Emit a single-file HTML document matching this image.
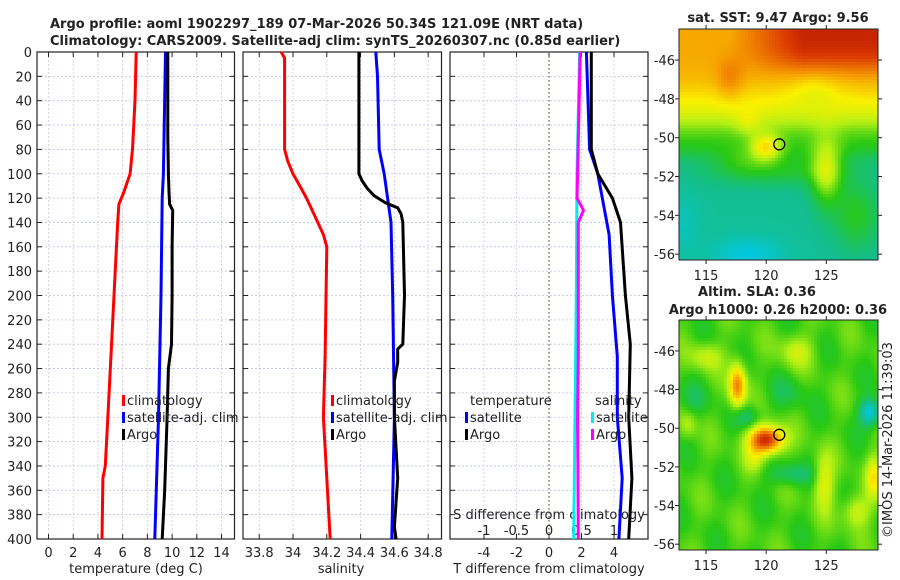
<!DOCTYPE html>
<html><head><meta charset="utf-8"><style>
body{margin:0;background:#fff;}
svg{display:block;font-family:"DejaVu Sans","Liberation Sans",sans-serif;position:absolute;left:0;top:0;}
#c1,#c2{position:absolute;image-rendering:pixelated;}
</style></head><body>
<div style="position:relative;width:900px;height:580px;">
<canvas id="c1" width="199" height="231" style="left:679px;top:29px"></canvas>
<canvas id="c2" width="199" height="230" style="left:679px;top:320px"></canvas>
<svg id="s" width="900" height="580"></svg>
</div>
<script>
// depth grid values (m)
const depthTicks=[0,20,40,60,80,100,120,140,160,180,200,220,240,260,280,300,320,340,360,380,400];
const tTicks=[0,2,4,6,8,10,12,14];
const sTicks=[33.8,34,34.2,34.4,34.6,34.8];
const dTTicks=[-4,-2,0,2,4];
const dSTicks=[-1,-0.5,0,0.5,1];
// temperature profiles
const tClimDepth=[0,40,80,100,115,125,140,200,280,340,350,400];
const tClim=[7.1,7.0,6.8,6.6,6.1,5.7,5.6,5.3,4.9,4.6,4.4,4.33];
const tSatDepth=[0,100,120,200,300,400];
const tSat=[9.47,9.3,9.2,9.1,8.9,8.6];
const tArgoDepth=[0,70,100,115,125,130,160,200,240,260,300,360,400];
const tArgo=[9.65,9.65,9.7,9.75,9.8,10.05,10.0,10.0,9.95,9.7,9.6,9.4,9.2];
// salinity profiles
const sClimDepth=[0,5,80,90,100,110,120,135,150,160,250,300,400];
const sClim=[33.93,33.95,33.95,33.97,34.0,34.04,34.08,34.13,34.18,34.2,34.19,34.18,34.22];
const sSatDepth=[0,20,80,100,140,200,300,400];
const sSat=[34.49,34.5,34.51,34.54,34.58,34.59,34.6,34.585];
const sArgoDepth=[0,100,106,112,118,124,128,133,140,200,240,244,255,270,300,350,390,400];
const sArgo=[34.39,34.39,34.41,34.44,34.48,34.55,34.62,34.64,34.65,34.66,34.65,34.62,34.62,34.6,34.6,34.62,34.6,34.61];
// differences
const dTSatDepth=[0,80,100,150,200,250,300,350,400];
const dTSat=[2.3,2.5,3.0,3.7,3.9,4.2,4.2,4.5,4.3];
const dTArgoDepth=[0,80,100,120,140,200,240,300,350,400];
const dTArgo=[2.6,2.6,3.0,3.9,4.4,4.7,5.0,4.9,5.1,4.9];
const dSSatDepth=[0,100,200,300,400];
const dSSat=[0.47,0.43,0.42,0.4,0.38];
const dSArgoDepth=[0,100,120,130,140,250,300,400];
const dSArgo=[0.48,0.44,0.43,0.53,0.45,0.45,0.44,0.45];

const NS="http://www.w3.org/2000/svg";
const svg=document.getElementById('s');
function el(t,a,p){const e=document.createElementNS(NS,t);for(const k in a)e.setAttribute(k,a[k]);(p||svg).appendChild(e);return e;}
function txt(x,y,s,a,p){const e=el('text',Object.assign({x:x,y:y,'font-size':13,fill:'#222'},a||{}),p);e.textContent=s;return e;}
const Y0=52,Y1=539;
const yS=d=>Y0+(d/400)*(Y1-Y0);
function panel(L,R,xmin,xmax){
  return v=>L+(v-xmin)/(xmax-xmin)*(R-L);
}
function drawPanel(L,R,xs,ticks,name){
  const g=el('g',{});
  
  
  depthTicks.forEach(d=>{el('line',{x1:L,x2:R,y1:yS(d),y2:yS(d),stroke:'#b8c4ec','stroke-dasharray':'2,2','stroke-width':0.8},g);
    el('line',{x1:L,x2:L+5,y1:yS(d),y2:yS(d),stroke:'#222'},g);el('line',{x1:R-5,x2:R,y1:yS(d),y2:yS(d),stroke:'#222'},g);});
  ticks.forEach(t=>{const x=xs(t);el('line',{x1:x,x2:x,y1:Y0,y2:Y1,stroke:'#d8c4dc','stroke-dasharray':'2,2','stroke-width':0.8},g);
    el('line',{x1:x,x2:x,y1:Y1,y2:Y1-5,stroke:'#222'},g);el('line',{x1:x,x2:x,y1:Y0,y2:Y0+5,stroke:'#222'},g);});
  el('rect',{x:L,y:Y0,width:R-L,height:Y1-Y0,fill:'none',stroke:'#222','stroke-width':1.2},g);
  return g;
}
function line(xs,vals,deps,color,name,w){
  const p=vals.map((v,i)=>xs(v).toFixed(1)+','+yS(deps[i]).toFixed(1)).join(' ');
  const e=el('polyline',{points:p,fill:'none',stroke:color,'stroke-width':w||3,'stroke-linejoin':'round'});
  
  
}
function legend(x,y,items){
  items.forEach((it,i)=>{const yy=y+i*17;
    const r=el('rect',{x:x,y:yy-10,width:3,height:11,fill:it[1]});
    
    
    const t=txt(x+5,yy,it[0],{fill:'#222'});
    
    });
}
// titles
let t=txt(50,28,'Argo profile: aoml 1902297_189 07-Mar-2026 50.34S 121.09E (NRT data)',{'font-weight':'bold'});

t=txt(50,45,'Climatology: CARS2009. Satellite-adj clim: synTS_20260307.nc (0.85d earlier)',{'font-weight':'bold'});


// panel 1 temperature
const xT=panel(37,234.5,-0.93,15.05);
drawPanel(37,234.5,xT,tTicks,'temperature-panel');
depthTicks.forEach(d=>{const e=txt(32,yS(d)+5,String(d),{'text-anchor':'end'});});
tTicks.forEach(v=>{const e=txt(xT(v),557,String(v),{'text-anchor':'middle'});});
t=txt(136,573,'temperature (deg C)',{'text-anchor':'middle'});
line(xT,tClim,tClimDepth,'#f00','temp-climatology-line');
line(xT,tSat,tSatDepth,'#00f','temp-satellite-line');
line(xT,tArgo,tArgoDepth,'#000','temp-argo-line');
legend(122,405,[['climatology','#f00'],['satellite-adj. clim','#00f'],['Argo','#000']]);

// panel 2 salinity
const xSa=panel(243,441.5,33.704,34.879);
drawPanel(243,441.5,xSa,sTicks,'salinity-panel');
sTicks.forEach(v=>{const e=txt(xSa(v),557,String(v),{'text-anchor':'middle'});});
t=txt(341,573,'salinity',{'text-anchor':'middle'});
line(xSa,sClim,sClimDepth,'#f00','sal-climatology-line');
line(xSa,sSat,sSatDepth,'#00f','sal-satellite-line');
line(xSa,sArgo,sArgoDepth,'#000','sal-argo-line');
legend(331,405,[['climatology','#f00'],['satellite-adj. clim','#00f'],['Argo','#000']]);

// panel 3 differences
const xD=panel(450,648,-6.09,6.09);
const xDS=v=>xD(v*4);
drawPanel(450,648,xD,dTTicks,'difference-panel');
el('line',{x1:xD(0),x2:xD(0),y1:Y0,y2:Y1,stroke:'#6b6b3a','stroke-dasharray':'1.5,2.5','stroke-width':1.2});
dTTicks.forEach(v=>{const e=txt(xD(v),557,String(v),{'text-anchor':'middle'});});
dSTicks.forEach(v=>{const e=txt(xDS(v),535,String(v),{'text-anchor':'middle'});});
t=txt(549,519,'S difference from climatology',{'text-anchor':'middle'});
t=txt(549,573,'T difference from climatology',{'text-anchor':'middle'});
line(xDS,dSSat,dSSatDepth,'#0ee','dsal-satellite-line');
line(xDS,dSArgo,dSArgoDepth,'#f0f','dsal-argo-line');
line(xD,dTSat,dTSatDepth,'#00f','dtemp-satellite-line');
line(xD,dTArgo,dTArgoDepth,'#000','dtemp-argo-line');
t=txt(470,405,'temperature');
t=txt(595,405,'salinity');
legend(465,422,[['satellite','#00f'],['Argo','#000']]);
legend(591,422,[['satellite','#0ee'],['Argo','#f0f']]);

// maps axes
function mapAxes(L,T,W,H,latTop,latBot,name){
  const g=el('g',{});
  const lx=lon=>L+(lon-112.75)/(129.3-112.75)*W;
  const ly=lat=>T+(latTop-lat)/(latTop-latBot)*H;
  el('rect',{x:L,y:T,width:W,height:H,fill:'none',stroke:'#222'},g);
  [-46,-48,-50,-52,-54,-56].forEach(la=>{const y=ly(la);
    el('line',{x1:L,x2:L-4,y1:y,y2:y,stroke:'#222'},g);el('line',{x1:L+W,x2:L+W+4,y1:y,y2:y,stroke:'#222'},g);
    const e=txt(L-4,y+5,String(la),{'text-anchor':'end'},g);});
  [115,120,125].forEach(lo=>{const x=lx(lo);
    el('line',{x1:x,x2:x,y1:T+H,y2:T+H+4,stroke:'#222'},g);el('line',{x1:x,x2:x,y1:T,y2:T-4,stroke:'#222'},g);
    const e=txt(x,T+H+20,String(lo),{'text-anchor':'middle'},g);});
  return [lx,ly];
}
const m1=mapAxes(679,29,199,231,-44.4,-56.3,'sst-map-axes');
const m2=mapAxes(679,320,199,230,-44.4,-56.3,'sla-map-axes');
t=txt(778,22,'sat. SST: 9.47 Argo: 9.56',{'text-anchor':'middle','font-weight':'bold'});
t=txt(757,296,'Altim. SLA: 0.36',{'text-anchor':'middle','font-weight':'bold'});
t=txt(778,314,'Argo h1000: 0.26 h2000: 0.36',{'text-anchor':'middle','font-weight':'bold'});
t=txt(0,0,'©IMOS 14-Mar-2026 11:39:03',{'text-anchor':'middle',transform:'translate(892,440) rotate(-90)'});
// markers
[[m1,'sst-argo-marker'],[m2,'sla-argo-marker']].forEach(a=>{
  const c=el('circle',{cx:a[0][0](121.09),cy:a[0][1](-50.34),r:5.5,fill:'none',stroke:'#000','stroke-width':1.3});
  });

// map fields
function jet(v){v=Math.max(0,Math.min(1,v));
  const stops=[[0,[0,0,170]],[0.15,[0,80,255]],[0.32,[0,200,230]],[0.42,[20,190,140]],[0.52,[40,200,20]],[0.62,[180,240,20]],[0.7,[250,240,0]],[0.8,[245,150,0]],[0.9,[220,60,0]],[1,[160,0,0]]];
  for(let i=1;i<stops.length;i++){if(v<=stops[i][0]){const a=stops[i-1],b=stops[i],f=(v-a[0])/(b[0]-a[0]);return a[1].map((c,k)=>Math.round(c+(b[1][k]-c)*f));}}
  return stops[stops.length-1][1];}
function g2(lo,la,cx,cy,sx,sy,a){return a*Math.exp(-((lo-cx)*(lo-cx))/(2*sx*sx)-((la-cy)*(la-cy))/(2*sy*sy));}
const sg=z=>1/(1+Math.exp(-z));
function sst(lo,la){
  let v=0.41+0.1*sg((la+50.9)*4)+0.17*sg((la+49.4)*2.5)+0.1*sg((la+47.6)*2)+0.16*sg((la+46.3)*2.5)*Math.min(1,Math.max(0,(lo-117)/6));
  v+=g2(lo,la,121,-51.6,4,0.6,0.09)+g2(lo,la,127.5,-54,1.3,1.2,0.1)+g2(lo,la,118,-51.2,1.5,0.5,0.05);
  v+=g2(lo,la,125,-51.8,0.9,1.2,0.2)+g2(lo,la,120,-50.5,0.9,0.5,0.2)+g2(lo,la,118.5,-49.3,0.8,0.5,0.06);
  v-=g2(lo,la,118.5,-56,2,0.6,0.08)+g2(lo,la,113,-54.5,1,1,0.04);
  v+=0.06*g2(lo,la,117,-47,0.8,0.8,1)-0.05*g2(lo,la,124,-47.5,1.5,0.6,1);
  return v;}
function sla(lo,la){
  let v=0.54+0.04*Math.sin(lo*1.3+la*0.7)*Math.cos(la*1.1-lo*0.5);
  v+=g2(lo,la,120,-50.6,1,0.5,0.42)+g2(lo,la,117.6,-47.8,0.5,0.8,0.28)+g2(lo,la,124.8,-52.8,0.6,1,0.14)+g2(lo,la,127.5,-54.3,0.8,0.6,0.12)+g2(lo,la,115,-46.3,1,0.5,0.1)+g2(lo,la,122.5,-46,1,0.6,0.1)+g2(lo,la,119,-51.6,0.6,0.5,0.08)+g2(lo,la,129,-52.5,0.5,0.8,0.15)+g2(lo,la,113.5,-49.8,0.5,0.5,0.08);
  v-=g2(lo,la,118.4,-49.4,0.7,0.4,0.1)+g2(lo,la,122,-52.4,1.3,0.4,0.1)+g2(lo,la,128.6,-49.2,0.6,0.5,0.22)+g2(lo,la,121.8,-48.2,1.2,0.6,0.05)+g2(lo,la,114,-48.5,1,0.6,0.05);
  return v;}
function paint(id,f){const c=document.getElementById(id),x=c.getContext('2d'),W=c.width,H=c.height;
  for(let py=0;py<H;py+=3)for(let px=0;px<W;px+=3){const lo=112.75+(px+1.5)/W*16.55,la=-44.4-(py+1.5)/H*11.9;
    const col=jet(f(lo,la));x.fillStyle='rgb('+col.join(',')+')';x.fillRect(px,py,3,3);}}
paint('c1',sst);paint('c2',sla);
</script>
</body></html>
